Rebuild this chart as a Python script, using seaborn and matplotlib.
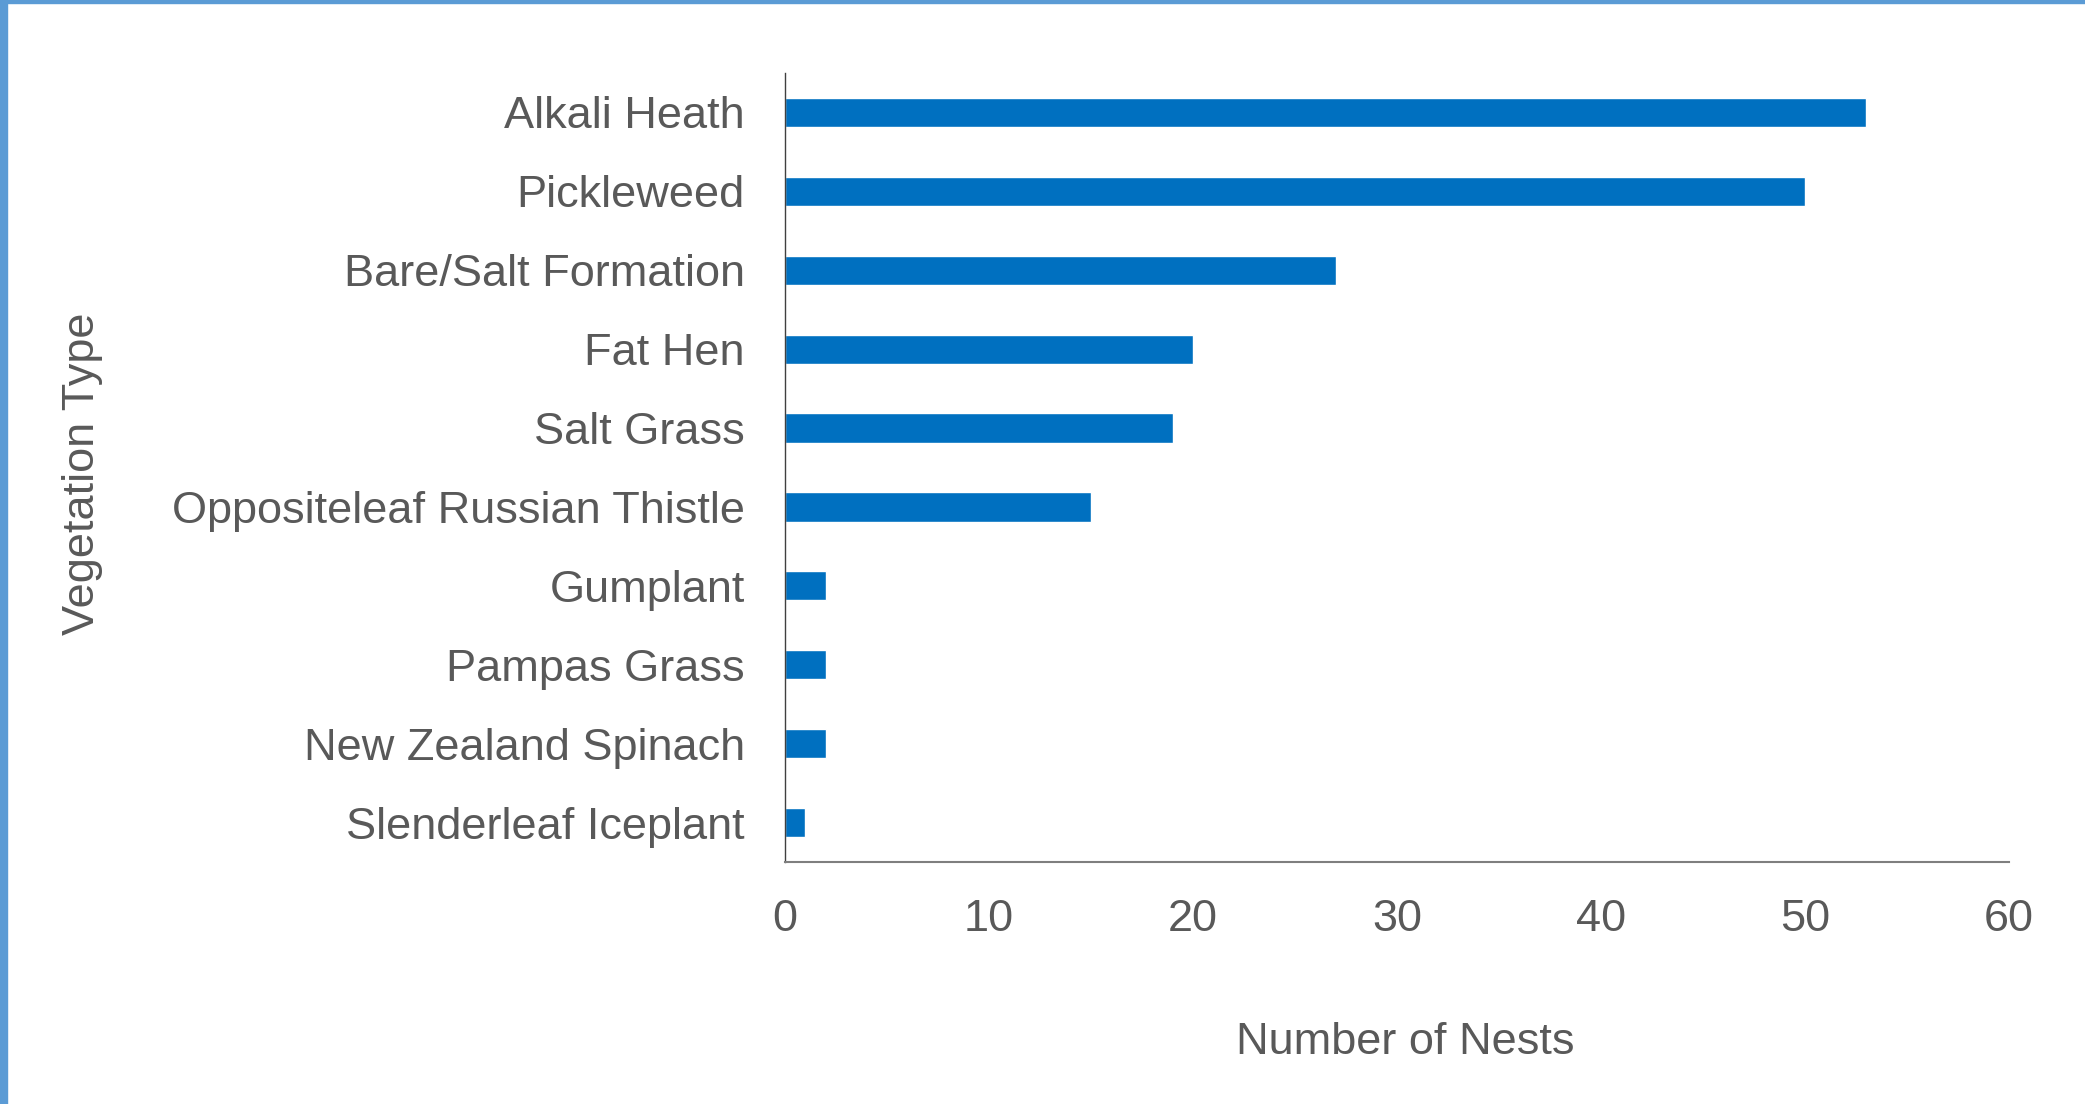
import matplotlib
matplotlib.use("Agg")
import matplotlib.pyplot as plt
import seaborn as sns
import pandas as pd
from matplotlib.patches import Rectangle

# 데이터
vegetation = ["Alkali Heath", "Pickleweed", "Bare/Salt Formation", "Fat Hen", "Salt Grass",
              "Oppositeleaf Russian Thistle", "Gumplant", "Pampas Grass",
              "New Zealand Spinach", "Slenderleaf Iceplant"]
nests = [53, 50, 27, 20, 19, 15, 2, 2, 2, 1]
x_ticks = [0, 10, 20, 30, 40, 50, 60]

df = pd.DataFrame({"Vegetation Type": vegetation, "Number of Nests": nests})

sns.set_style("white")
plt.rcParams["font.family"] = ["Liberation Sans", "DejaVu Sans"]
text_color = "#595959"
fs = 32.5

fig = plt.figure(figsize=(20.85, 11.04), dpi=100)
ax = fig.add_axes([0.3765, 0.2192, 0.5871, 0.7147])

sns.barplot(data=df, x="Number of Nests", y="Vegetation Type", order=vegetation,
            color="#0070C0", saturation=1, width=0.37, orient="h", ax=ax)

ax.set_xlim(0, 60)
ax.set_xticks(x_ticks)
ax.tick_params(axis="x", length=0, pad=26.5, labelsize=fs, labelcolor=text_color)
ax.tick_params(axis="y", length=0, pad=29, labelsize=fs, labelcolor=text_color)

ax.set_xlabel("Number of Nests", fontsize=fs, color=text_color, va="center")
ax.xaxis.set_label_coords(0.507, -0.229)
ax.set_ylabel("Vegetation Type", fontsize=fs, color=text_color, va="center")
ax.yaxis.set_label_coords(-0.574, 0.492)

for side in ["top", "right"]:
    ax.spines[side].set_visible(False)
ax.spines["left"].set_color("#404040")
ax.spines["left"].set_linewidth(1.0)
ax.spines["bottom"].set_color("#7f7f7f")
ax.spines["bottom"].set_linewidth(1.5)

# 테두리
fig.patches.append(Rectangle((0, 0), 7 / 2085, 1, transform=fig.transFigure,
                             color="#5B9BD5", zorder=10))
fig.patches.append(Rectangle((0, 1 - 3 / 1104), 1, 3 / 1104, transform=fig.transFigure,
                             color="#5B9BD5", zorder=10))

fig.savefig("out.png", dpi=100)
